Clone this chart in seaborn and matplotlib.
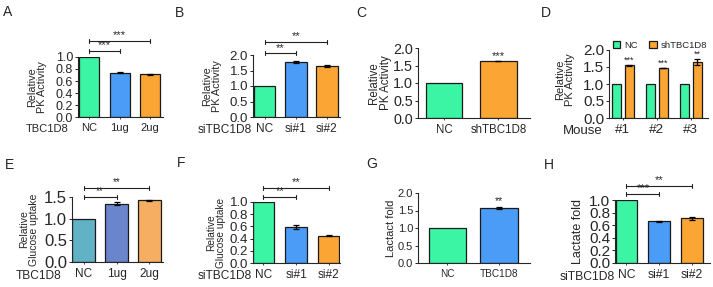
import numpy as np
import pandas as pd
import seaborn as sns
import matplotlib.pyplot as plt

# ---------------- data ----------------
a_groups = ["NC", "1ug", "2ug"]
a_values = [1.0, 0.74, 0.71]
a_err = [0.0, 0.01, 0.01]

b_groups = ["NC", "si#1", "si#2"]
b_values = [1.0, 1.77, 1.65]
b_err = [0.0, 0.04, 0.04]

c_groups = ["NC", "shTBC1D8"]
c_values = [1.0, 1.63]
c_err = [0.0, 0.01]

d_mice = ["#1", "#2", "#3"]
d_nc = [1.0, 1.0, 1.0]
d_sh = [1.55, 1.47, 1.65]
d_sh_err = [0.02, 0.01, 0.08]

e_groups = ["NC", "1ug", "2ug"]
e_values = [1.0, 1.35, 1.42]
e_err = [0.0, 0.03, 0.02]

f_groups = ["NC", "si#1", "si#2"]
f_values = [1.0, 0.59, 0.45]
f_err = [0.0, 0.04, 0.015]

g_groups = ["NC", "TBC1D8"]
g_values = [1.0, 1.58]
g_err = [0.0, 0.03]

h_groups = ["NC", "si#1", "si#2"]
h_values = [1.0, 0.66, 0.71]
h_err = [0.0, 0.01, 0.02]

green = "#3cf5a4"
blue = "#4a9cf6"
orange = "#fba534"
e_colors = ["#62b2c6", "#6b85cc", "#f5ae62"]

# ---------------- style ----------------
sns.set_style("ticks")
plt.rcParams["font.family"] = ["Liberation Sans", "DejaVu Sans"]
plt.rcParams["axes.linewidth"] = 0.8

W, H = 713, 287
fig = plt.figure(figsize=(W / 100, H / 100), dpi=100)


def add_ax(x0, y0, x1, y1):
    # pixel box -> figure fraction
    return fig.add_axes([x0 / W, 1 - y1 / H, (x1 - x0) / W, (y1 - y0) / H])


def style_ax(ax, ylim, yticks, xlim, ylabel, lab_x, ytick_fs, xtick_fs, lab_fs):
    ax.set_ylim(*ylim)
    ax.set_yticks(yticks)
    ax.set_xlim(*xlim)
    ax.set_xlabel("")
    ax.set_ylabel(ylabel, fontsize=lab_fs, linespacing=1.0)
    ax.yaxis.set_label_coords(lab_x, 0.5)
    ax.tick_params(axis="y", labelsize=ytick_fs, length=2.5, width=0.7, pad=1)
    ax.tick_params(axis="x", labelsize=xtick_fs, length=1.5, width=0.6, pad=3)
    sns.despine(ax=ax)


def err(ax, values, errs):
    xs = [p.get_x() + p.get_width() / 2 for p in ax.patches[:len(values)]]
    pts = [(x, v, e) for x, v, e in zip(xs, values, errs) if e > 0]
    ax.errorbar([p[0] for p in pts], [p[1] for p in pts], yerr=[p[2] for p in pts],
                fmt="none", ecolor="black", elinewidth=0.9, capsize=2.5, capthick=0.9)


def bracket(ax, x0, x1, y, text, dy, fs=8):
    ax.plot([x0, x1], [y, y], color="#222222", lw=0.8, clip_on=False)
    ax.plot([x0, x0], [y - dy, y + dy], color="#222222", lw=0.8, clip_on=False)
    ax.plot([x1, x1], [y - dy, y + dy], color="#222222", lw=0.8, clip_on=False)
    ax.text((x0 + x1) / 2, y + dy * 0.3, text, ha="center", va="bottom",
            fontsize=fs, clip_on=False)


def star(ax, x, y, text, fs=8):
    ax.text(x, y, text, ha="center", va="bottom", fontsize=fs)


def simple_bar(ax, groups, values, colors, width):
    df = pd.DataFrame({"group": groups, "value": values})
    sns.barplot(data=df, x="group", y="value", hue="group", palette=colors,
                width=width, edgecolor="#1a1a1a", linewidth=0.9, saturation=1,
                legend=False, ax=ax)


# ---------------- A ----------------
ax = add_ax(78, 57, 163, 117)
simple_bar(ax, a_groups, a_values, [green, blue, orange], 0.65)
err(ax, a_values, a_err)
style_ax(ax, (0, 1.0), [0, 0.2, 0.4, 0.6, 0.8, 1.0], (-0.36, 2.42),
         "Relative\nPK Activity", -0.36, 9, 8, 7.8)
bracket(ax, 0, 1, 1.10, "***", 0.03)
bracket(ax, 0, 2, 1.27, "***", 0.03)
fig.text(68 / W, 1 - 129 / H, "TBC1D8", ha="right", va="center", fontsize=8)

# ---------------- B ----------------
ax = add_ax(253, 55, 340, 117)
simple_bar(ax, b_groups, b_values, [green, blue, orange], 0.7)
err(ax, b_values, b_err)
style_ax(ax, (0, 2.0), [0, 0.5, 1.0, 1.5, 2.0], (-0.37, 2.42),
         "Relative\nPK Activity", -0.36, 9.5, 8.6, 7.8)
bracket(ax, 0, 1, 2.06, "**", 0.06)
bracket(ax, 0, 2, 2.42, "**", 0.06)
fig.text(252 / W, 1 - 130 / H, "siTBC1D8", ha="right", va="center", fontsize=8.6)

# ---------------- C ----------------
ax = add_ax(418, 48, 530, 118)
simple_bar(ax, c_groups, c_values, [green, orange], 0.67)
err(ax, c_values, c_err)
style_ax(ax, (0, 2.0), [0, 0.5, 1.0, 1.5, 2.0], (-0.48, 1.58),
         "Relative\nPK Activity", -0.23, 10.4, 8.3, 8.3)
star(ax, 1, 1.64, "***")

# ---------------- D ----------------
ax = add_ax(609, 50, 708, 118)
d_df = pd.DataFrame({
    "mouse": d_mice * 2,
    "value": d_nc + d_sh,
    "group": ["NC"] * len(d_mice) + ["shTBC1D8"] * len(d_mice),
})
sns.barplot(data=d_df, x="mouse", y="value", hue="group",
            palette=[green, orange], width=0.76, gap=0.3, saturation=1,
            edgecolor="#1a1a1a", linewidth=0.9, ax=ax)
sh_bars = ax.patches[len(d_mice):2 * len(d_mice)]
ax.errorbar([p.get_x() + p.get_width() / 2 for p in sh_bars], d_sh,
            yerr=d_sh_err, fmt="none", ecolor="black", elinewidth=0.9,
            capsize=2.0, capthick=0.9)
style_ax(ax, (0, 2.0), [0, 0.5, 1.0, 1.5, 2.0], (-0.4, 2.5),
         "Relative\nPK Activity", -0.34, 11, 9.7, 8)
ax.yaxis.set_label_coords(-0.34, 0.56)
for p, v, e, s in zip(sh_bars, d_sh, d_sh_err, ["***", "***", "**"]):
    star(ax, p.get_x() + p.get_width() / 2, v + e + 0.01, s, fs=6.5)
ax.legend(loc="lower left", bbox_to_anchor=(0.02, 0.97), ncol=2, frameon=False,
          fontsize=6.8, handlelength=0.8, handleheight=0.8, handletextpad=0.4,
          columnspacing=1.2, borderaxespad=0.1, borderpad=0.1)
fig.text(603 / W, 1 - 131 / H, "Mouse", ha="right", va="center", fontsize=9.5)

# ---------------- E ----------------
ax = add_ax(72, 197, 163, 262)
simple_bar(ax, e_groups, e_values, e_colors, 0.67)
err(ax, e_values, e_err)
style_ax(ax, (0, 1.5), [0, 0.5, 1.0, 1.5], (-0.35, 2.41),
         "Relative\nGlucose uptake", -0.36, 12, 8.6, 7.5)
bracket(ax, 0, 1, 1.50, "**", 0.04, fs=7)
bracket(ax, 0, 2, 1.71, "**", 0.04, fs=7)
fig.text(61 / W, 1 - 276 / H, "TBC1D8", ha="right", va="center", fontsize=8.6)

# ---------------- F ----------------
ax = add_ax(253, 202, 340, 263)
simple_bar(ax, f_groups, f_values, [green, blue, orange], 0.66)
err(ax, f_values, f_err)
style_ax(ax, (0, 1.0), [0, 0.2, 0.4, 0.6, 0.8, 1.0], (-0.32, 2.35),
         "Relative\nGlucose uptake", -0.31, 9.5, 8.6, 7.3)
bracket(ax, 0, 1, 1.08, "**", 0.03)
bracket(ax, 0, 2, 1.23, "**", 0.03)
fig.text(252 / W, 1 - 276 / H, "siTBC1D8", ha="right", va="center", fontsize=8.6)

# ---------------- G ----------------
ax = add_ax(418, 193, 530, 263)
simple_bar(ax, g_groups, g_values, [green, blue], 0.72)
err(ax, g_values, g_err)
style_ax(ax, (0, 2.0), [0, 0.5, 1.0, 1.5, 2.0], (-0.57, 1.6),
         "Lactact fold", -0.2, 8, 7.2, 8)
star(ax, 1, 1.62, "**", fs=7.5)

# ---------------- H ----------------
ax = add_ax(615, 200, 710, 263)
simple_bar(ax, h_groups, h_values, [green, blue, orange], 0.66)
err(ax, h_values, h_err)
style_ax(ax, (0, 1.0), [0, 0.2, 0.4, 0.6, 0.8, 1.0], (-0.35, 2.55),
         "Lactate fold", -0.33, 11, 8.7, 9)
bracket(ax, 0, 1, 1.10, "***", 0.03)
bracket(ax, 0, 2, 1.22, "**", 0.03)
fig.text(615 / W, 1 - 277 / H, "siTBC1D8", ha="right", va="center", fontsize=8.7)

# ---------------- panel letters ----------------
for lab, x, y in [("A", 8, 12), ("B", 180, 13), ("C", 361, 13), ("D", 546, 13),
                  ("E", 9, 165), ("F", 181, 163), ("G", 372, 164), ("H", 549, 165)]:
    fig.text(x / W, 1 - y / H, lab, ha="center", va="center", fontsize=10)

fig.savefig("out.png", dpi=100)
